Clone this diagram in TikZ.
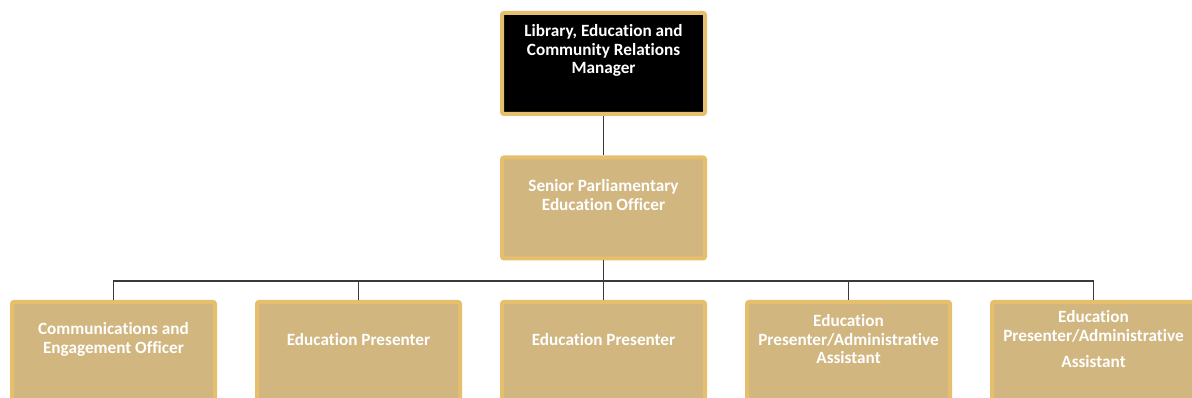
\documentclass[tikz,border=0pt]{standalone}
\usepackage{fontspec}
\setmainfont{Carlito}[Ligatures=NoCommon]
\definecolor{goldfill}{HTML}{D1B680}
\definecolor{goldline}{HTML}{E6BF6C}
\definecolor{connline}{HTML}{3A3A3A}
\tikzset{
  box/.style={draw=goldline, line width=4pt, fill=goldfill, rounded corners=2pt,
    minimum width=203pt, minimum height=101pt, inner sep=0pt},
  topbox/.style={box, fill=black},
  lbl/.style={text=white, font=\bfseries\fontsize{17.2pt}{18.5pt}\selectfont, align=center, inner sep=0pt},
  conn/.style={draw=connline, line width=1.3pt}
}
\begin{document}
\begin{tikzpicture}[x=1pt,y=1pt]
\useasboundingbox (0,0) rectangle (1192,398);
\clip (0,0) rectangle (1192,398);
% boxes
\node[topbox] (mgr) at (603.5,334.5) {};
\node[box] (spe) at (603.5,190) {};
\node[box] (b1) at (113.5,45.5) {};
\node[box] (b2) at (358.5,45.5) {};
\node[box] (b3) at (603.5,45.5) {};
\node[box] (b4) at (848.5,45.5) {};
\node[box] (b5) at (1093.5,45.5) {};
% texts
\node[lbl] (tmgr) at ([yshift=13pt]mgr.center) {Library, Education and\\Community Relations\\Manager};
\node[lbl] (tspe) at ([yshift=13pt]spe.center) {Senior Parliamentary\\Education Officer};
\node[lbl] (tb1) at ([yshift=13pt]b1.center) {Communications and\\Engagement Officer};
\node[lbl] (tb2) at ([yshift=13pt]b2.center) {Education Presenter};
\node[lbl] (tb3) at ([yshift=13pt]b3.center) {Education Presenter};
\node[lbl] (tb4) at ([yshift=13pt]b4.center) {Education\\Presenter/Administrative\\Assistant};
\node[lbl] (tb5) at ([yshift=13pt]b5.center) {Education\\Presenter/Administrative\\[8pt]Assistant};
% connectors
\coordinate (bus) at (603.5,117);
\draw[conn] (mgr.south) -- (spe.north);
\draw[conn] (spe.south) -- (bus);
\draw[conn] (b1.north) |- (bus) -| (b5.north);
\draw[conn] (b2.north) -- (b2.north |- bus);
\draw[conn] (b3.north) -- (bus);
\draw[conn] (b4.north) -- (b4.north |- bus);
\end{tikzpicture}
\end{document}
